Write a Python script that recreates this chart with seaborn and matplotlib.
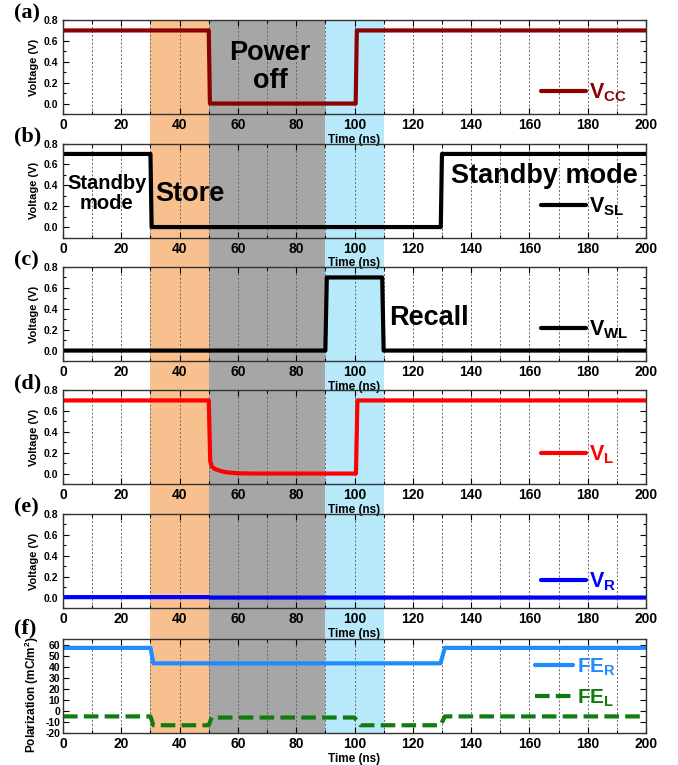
import numpy as np
import pandas as pd
import matplotlib
matplotlib.use("Agg")
import matplotlib.pyplot as plt
from matplotlib.ticker import MultipleLocator
import seaborn as sns

# ============================================================
# DATA (time in ns, voltages in V, polarization in mC/m^2)
# ============================================================
T_VCC = [0, 50, 50.4, 100.4, 100.8, 200]
VCC = [0.7, 0.7, 0.0, 0.0, 0.7, 0.7]

T_VSL = [0, 30, 30.4, 129.6, 130, 200]
VSL = [0.7, 0.7, 0.0, 0.0, 0.7, 0.7]

T_VWL = [0, 90, 90.5, 109.5, 110, 200]
VWL = [0.0, 0.0, 0.7, 0.7, 0.0, 0.0]

T_VL = [0, 50, 50.5, 51, 52, 54, 56, 60, 65, 100.5, 101, 200]
VL = [0.7, 0.7, 0.12, 0.07, 0.045, 0.025, 0.012, 0.003, 0.0, 0.0, 0.7, 0.7]

T_VR = [0, 50, 50.5, 200]
VR = [0.004, 0.004, 0.0, 0.0]

T_FER = [0, 30, 31, 129.5, 131, 200]
FER = [57, 57, 43, 43, 57, 57]

T_FEL = [0, 30, 31, 50, 51, 100, 102, 129.5, 131, 200]
FEL = [-5, -5, -13, -13, -6, -6, -13, -13, -5, -5]

PHASE_START = [30, 50, 90]
PHASE_END = [50, 90, 110]
PHASE_COLORS = ["#F8C08F", "#A6A6A6", "#B8E9FA"]

PANEL_LABELS = ["(a)", "(b)", "(c)", "(d)", "(e)", "(f)"]

sns.set_style("ticks")
plt.rcParams["font.family"] = ["Liberation Sans", "DejaVu Sans"]
plt.rcParams["font.weight"] = "bold"
plt.rcParams["text.color"] = "black"
plt.rcParams["axes.labelcolor"] = "black"
plt.rcParams["xtick.color"] = "black"
plt.rcParams["ytick.color"] = "black"
plt.rcParams["axes.unicode_minus"] = False
plt.rcParams["mathtext.fontset"] = "custom"
plt.rcParams["mathtext.rm"] = "Liberation Sans:bold"
plt.rcParams["mathtext.bf"] = "Liberation Sans:bold"
plt.rcParams["mathtext.it"] = "Liberation Sans:bold"

W, H = 678, 765
fig = plt.figure(figsize=(W / 100, H / 100), dpi=100)

LEFT, RIGHT = 63, 646
TOPS = [20, 143.5, 267, 390, 514, 639]
PH = 94
LEG_Y = [0.223, 0.324, 0.33, 0.31, 0.277]
LABEL_Y = [1.064, 1.07, 1.07, 1.07, 1.07, 1.117]


def frac_rect(top):
    return [LEFT / W, 1 - (top + PH) / H, (RIGHT - LEFT) / W, PH / H]


# background shading spanning all panels
bg = fig.add_axes([LEFT / W, 1 - (TOPS[-1] + PH) / H, (RIGHT - LEFT) / W,
                   (TOPS[-1] + PH - TOPS[0]) / H], zorder=0)
bg.set_xlim(0, 200)
bg.axis("off")
for s, e, c in zip(PHASE_START, PHASE_END, PHASE_COLORS):
    bg.axvspan(s, e, color=c, lw=0)

axes = [fig.add_axes(frac_rect(t), zorder=1) for t in TOPS]

traces = [
    (T_VCC, VCC, "#8B0000", r"V$_{\mathbf{CC}}$"),
    (T_VSL, VSL, "black", r"V$_{\mathbf{SL}}$"),
    (T_VWL, VWL, "black", r"V$_{\mathbf{WL}}$"),
    (T_VL, VL, "#FF0000", r"V$_{\mathbf{L}}$"),
    (T_VR, VR, "#0000FF", r"V$_{\mathbf{R}}$"),
]

for i, ax in enumerate(axes):
    ax.set_facecolor("none")
    if i < 5:
        t, v, col, lab = traces[i]
        df = pd.DataFrame({"t": t, "v": v})
        sns.lineplot(data=df, x="t", y="v", ax=ax, color=col, lw=3,
                     estimator=None, sort=False, label=lab)
        ax.set_ylim(-0.1, 0.8)
        ax.yaxis.set_major_locator(MultipleLocator(0.2))
        ax.yaxis.set_minor_locator(MultipleLocator(0.1))
        ax.set_ylabel("Voltage (V)", fontsize=8, fontweight="bold", labelpad=3)
        ax.tick_params(axis="y", labelsize=7.5)
        leg = ax.legend(loc="center left", bbox_to_anchor=(0.82, LEG_Y[i]),
                        frameon=False, handlelength=2.1, handletextpad=0.15,
                        borderpad=0, borderaxespad=0,
                        prop={"weight": "bold", "size": 15.5})
        for txt in leg.get_texts():
            txt.set_color(col)
    else:
        df_r = pd.DataFrame({"t": T_FER, "v": FER})
        df_l = pd.DataFrame({"t": T_FEL, "v": FEL})
        sns.lineplot(data=df_r, x="t", y="v", ax=ax, color="#1E8CFF", lw=3,
                     estimator=None, sort=False, label=r"FE$_{\mathbf{R}}$")
        sns.lineplot(data=df_l, x="t", y="v", ax=ax, color="#107C10", lw=3,
                     estimator=None, sort=False, label=r"FE$_{\mathbf{L}}$",
                     linestyle=(0, (3.5, 1.5)))
        ax.set_ylim(-20, 65)
        ax.yaxis.set_major_locator(MultipleLocator(10))
        ax.set_ylabel(r"Polarization (mC/m$^\mathbf{2}$)", fontsize=8.5,
                      fontweight="bold")
        ax.yaxis.set_label_coords(-0.037, 0.41)
        ax.tick_params(axis="y", labelsize=7.5, pad=2)
        leg = ax.legend(loc="center left", bbox_to_anchor=(0.81, 0.537),
                        frameon=False, handlelength=1.8, handletextpad=0.2,
                        borderpad=0, borderaxespad=0, labelspacing=0.45,
                        prop={"weight": "bold", "size": 15})
        for txt, col in zip(leg.get_texts(), ["#1E8CFF", "#107C10"]):
            txt.set_color(col)

    ax.set_xlim(0, 200)
    ax.xaxis.set_major_locator(MultipleLocator(20))
    ax.xaxis.set_minor_locator(MultipleLocator(10))
    ax.tick_params(axis="x", labelsize=10, pad=3)
    ax.tick_params(which="both", direction="in", top=True, right=True)
    ax.tick_params(which="major", length=4, width=0.8)
    ax.tick_params(which="minor", length=2.5, width=0.8)
    for lbl in ax.get_xticklabels() + ax.get_yticklabels():
        lbl.set_fontweight("bold")
    ax.set_xlabel("Time (ns)", fontsize=8.5, fontweight="bold", labelpad=1)
    ax.grid(axis="x", which="both", ls=(0, (2, 2)), color="0.4", lw=0.7)
    for sp in ax.spines.values():
        sp.set_color("0.2")
        sp.set_linewidth(1)
    ax.text(-0.084, LABEL_Y[i], PANEL_LABELS[i], transform=ax.transAxes,
            ha="left", va="center", fontsize=16, fontweight="bold",
            family=["Liberation Serif", "DejaVu Serif"])

# annotations
axes[0].text(71, 0.35, "Power\noff", ha="center", va="center", fontsize=19.5,
             fontweight="bold", linespacing=1.07)
axes[1].text(15, 0.32, "Standby\nmode", ha="center", va="center", fontsize=14.5,
             fontweight="bold", linespacing=1.08)
axes[1].text(43.5, 0.32, "Store", ha="center", va="center", fontsize=19.5,
             fontweight="bold")
axes[1].text(165.3, 0.49, "Standby mode", ha="center", va="center",
             fontsize=19.5, fontweight="bold")
axes[2].text(125.4, 0.31, "Recall", ha="center", va="center", fontsize=19.5,
             fontweight="bold")

fig.savefig("out.png", dpi=100)
